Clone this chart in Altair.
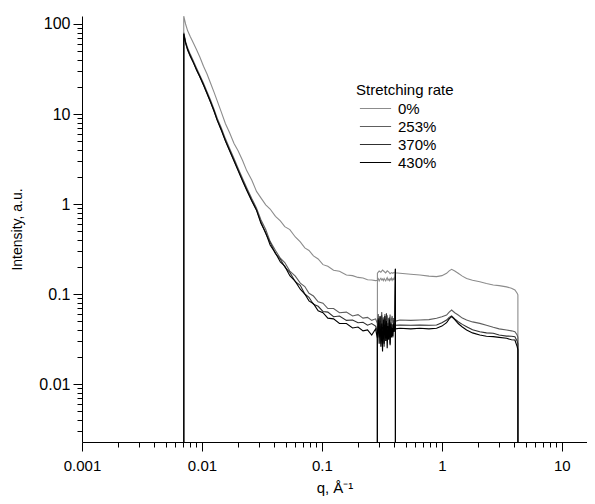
import altair as alt
import pandas as pd

# ---------------- data ----------------
rates = ["0%", "253%", "370%", "430%"]
colors = ["#8c8c8c", "#5e5e5e", "#303030", "#000000"]

# zero-count detector points at the ends of each segment (below the axis floor)
ZERO = 1e-5

q_saxs = [0.00705, 0.0073, 0.0076, 0.0080, 0.0085, 0.0090, 0.0096, 0.0103, 0.0110, 0.0118,
          0.0126, 0.0134, 0.0145, 0.0157, 0.0170, 0.0185, 0.0200, 0.0218, 0.0236, 0.0260,
          0.0285, 0.0310, 0.034, 0.037, 0.041, 0.045, 0.049, 0.054, 0.060, 0.066,
          0.072, 0.078, 0.085, 0.093, 0.102, 0.112, 0.125, 0.14, 0.16, 0.18,
          0.20, 0.22, 0.24, 0.26, 0.28,
          0.29, 0.295, 0.30, 0.305, 0.31, 0.315, 0.32, 0.325, 0.33, 0.335,
          0.34, 0.345, 0.35, 0.355, 0.36, 0.365, 0.37, 0.375, 0.38, 0.385,
          0.39, 0.395, 0.40, 0.405, 0.41]

saxs_0 = [122, 100, 84, 72, 61, 52, 43, 34, 28, 22,
          17.5, 14, 10.5, 7.8, 6.2, 4.7, 3.9, 3.05, 2.35, 1.85,
          1.38, 1.17, 0.98, 0.88, 0.73, 0.65, 0.56, 0.52, 0.43, 0.38,
          0.325, 0.305, 0.265, 0.245, 0.212, 0.203, 0.184, 0.179, 0.163, 0.16,
          0.153, 0.151, 0.144, 0.143, 0.141,
          0.142, 0.148, 0.140, 0.146, 0.150, 0.143, 0.147, 0.141, 0.149, 0.144,
          0.140, 0.147, 0.152, 0.143, 0.146, 0.141, 0.148, 0.144, 0.150, 0.142,
          0.147, 0.145, 0.151, 0.146, 0.193]

saxs_253 = [80, 64, 54, 46, 38.5, 32.5, 27, 22, 17.8, 14.2,
            11.3, 9.0, 7.0, 5.3, 4.15, 3.2, 2.5, 1.92, 1.52, 1.15,
            0.9, 0.67, 0.52, 0.385, 0.305, 0.25, 0.224, 0.18, 0.158, 0.132,
            0.121, 0.102, 0.095, 0.082, 0.079, 0.069, 0.069, 0.062, 0.063, 0.057,
            0.059, 0.054, 0.055, 0.051, 0.053,
            0.047, 0.060, 0.043, 0.056, 0.049, 0.063, 0.041, 0.055, 0.048, 0.060,
            0.044, 0.053, 0.058, 0.045, 0.054, 0.047, 0.059, 0.043, 0.053, 0.057,
            0.047, 0.054, 0.049, 0.055, 0.19]

saxs_370 = [77, 61, 51, 43.5, 37, 31, 26, 21, 17, 13.6,
            10.8, 8.6, 6.7, 5.05, 3.95, 3.05, 2.4, 1.83, 1.45, 1.1,
            0.86, 0.63, 0.47, 0.375, 0.28, 0.245, 0.2, 0.174, 0.137, 0.125,
            0.1, 0.092, 0.077, 0.073, 0.064, 0.063, 0.056, 0.057, 0.051, 0.0515,
            0.048, 0.0485, 0.045, 0.047, 0.044,
            0.038, 0.054, 0.033, 0.050, 0.028, 0.058, 0.035, 0.047, 0.026, 0.052,
            0.032, 0.061, 0.030, 0.048, 0.037, 0.055, 0.028, 0.049, 0.035, 0.046,
            0.033, 0.051, 0.039, 0.047, 0.19]

saxs_430 = [78, 62, 52, 44, 37, 31, 26, 21, 17, 13.5,
            10.8, 8.5, 6.6, 5.0, 3.9, 3.0, 2.35, 1.8, 1.42, 1.08,
            0.85, 0.61, 0.48, 0.35, 0.285, 0.228, 0.204, 0.16, 0.138, 0.113,
            0.1, 0.084, 0.078, 0.065, 0.062, 0.054, 0.053, 0.047, 0.047, 0.042,
            0.043, 0.039, 0.040, 0.035, 0.041,
            0.032, 0.052, 0.028, 0.057, 0.026, 0.047, 0.023, 0.052, 0.028, 0.057,
            0.030, 0.050, 0.025, 0.044, 0.031, 0.052, 0.027, 0.047, 0.033, 0.042,
            0.034, 0.047, 0.038, 0.044, 0.19]

q_waxs = [0.29, 0.30, 0.31, 0.32, 0.33, 0.34, 0.35, 0.36, 0.37, 0.38,
          0.39, 0.40, 0.41, 0.447, 0.55, 0.656, 0.78, 0.903, 1.0, 1.094,
          1.15, 1.205, 1.28, 1.367, 1.48, 1.607, 1.8, 2.07, 2.35, 2.68,
          3.0, 3.46, 3.8, 4.06, 4.24, 4.3]

waxs_0 = [0.170, 0.180, 0.175, 0.185, 0.178, 0.172, 0.181, 0.176, 0.168, 0.173,
          0.170, 0.174, 0.172, 0.170, 0.166, 0.163, 0.158, 0.156, 0.160, 0.170,
          0.181, 0.188, 0.180, 0.170, 0.158, 0.149, 0.142, 0.137, 0.131, 0.126,
          0.124, 0.120, 0.116, 0.111, 0.102, 0.098]

waxs_253 = [0.050, 0.052, 0.049, 0.053, 0.051, 0.050, 0.052, 0.049, 0.051, 0.050,
            0.052, 0.051, 0.050, 0.0514, 0.051, 0.0514, 0.052, 0.0537, 0.056, 0.0584,
            0.063, 0.0664, 0.062, 0.0584, 0.054, 0.0514, 0.049, 0.0472, 0.045, 0.0427,
            0.041, 0.0398, 0.039, 0.0381, 0.035, 0.033]

waxs_370 = [0.044, 0.046, 0.043, 0.045, 0.044, 0.046, 0.044, 0.045, 0.043, 0.046,
            0.044, 0.045, 0.045, 0.0453, 0.045, 0.0453, 0.045, 0.0453, 0.048, 0.0514,
            0.055, 0.057, 0.053, 0.0492, 0.046, 0.0434, 0.040, 0.0381, 0.037, 0.0366,
            0.035, 0.0341, 0.034, 0.0336, 0.030, 0.028]

waxs_430 = [0.040, 0.042, 0.039, 0.042, 0.040, 0.041, 0.043, 0.040, 0.041, 0.042,
            0.040, 0.042, 0.041, 0.0416, 0.041, 0.0416, 0.041, 0.0416, 0.044, 0.048,
            0.053, 0.056, 0.052, 0.047, 0.043, 0.0398, 0.037, 0.035, 0.034, 0.0336,
            0.033, 0.0322, 0.031, 0.0308, 0.026, 0.024]

saxs = {"0%": saxs_0, "253%": saxs_253, "370%": saxs_370, "430%": saxs_430}
waxs = {"0%": waxs_0, "253%": waxs_253, "370%": waxs_370, "430%": waxs_430}

rows = []
for r in rates:
    assert len(saxs[r]) == len(q_saxs), r
    assert len(waxs[r]) == len(q_waxs), r
    seq = [(q_saxs[0], ZERO)] + list(zip(q_saxs, saxs[r])) + [(q_saxs[-1], ZERO)]
    seq += [(q_waxs[0], ZERO)] + list(zip(q_waxs, waxs[r])) + [(q_waxs[-1], ZERO)]
    for i, (q, v) in enumerate(seq):
        rows.append({"rate": r, "q": q, "I": v, "idx": i})
df = pd.DataFrame(rows)

# ---------------- axes ----------------
X_MIN, X_MAX = 0.001, 16.2
Y_MIN, Y_MAX = 0.00227, 122.7


def log_ticks(lo, hi):
    vals = []
    for e in range(-4, 3):
        for k in range(1, 10):
            v = round(k * 10 ** e, 8)
            if lo * 0.999 <= v <= hi * 1.001:
                vals.append(v)
    return vals


MAJOR = "abs(log(datum.value)/LN10 - round(log(datum.value)/LN10)) < 0.001"
tick_size = {"condition": {"test": MAJOR, "value": 9}, "value": 5}
label_expr = f"({MAJOR}) ? format(datum.value, '~g') : ''"

FONT = "Liberation Sans"

x_axis = alt.Axis(values=log_ticks(X_MIN, X_MAX), tickSize=tick_size, labelExpr=label_expr,
                  labelOverlap=False, labelFlush=False, grid=False, domainColor="black",
                  tickColor="black", labelFontSize=15, labelPadding=7, titleFontSize=15,
                  titlePadding=7, titleFontWeight="normal", labelFont=FONT, titleFont=FONT,
                  labelColor="black", titleColor="black")
y_axis = alt.Axis(values=log_ticks(Y_MIN, Y_MAX), tickSize=tick_size, labelExpr=label_expr,
                  labelOverlap=False, labelFlush=False, grid=False, domainColor="black",
                  tickColor="black", labelFontSize=16, labelPadding=3, titleFontSize=14,
                  titlePadding=14, titleFontWeight="normal", labelFont=FONT, titleFont=FONT,
                  labelColor="black", titleColor="black")

legend = alt.Legend(
    title="Stretching rate", orient="none", legendX=274, legendY=67,
    symbolType="M-2.6,0H2.6", symbolSize=144, symbolStrokeWidth=1.2, symbolOffset=12,
    labelOffset=15, labelFontSize=15, titleFontSize=15, titleFontWeight="normal",
    labelFont=FONT, titleFont=FONT, rowPadding=2, titlePadding=3,
    labelColor="black", titleColor="black",
)

chart = alt.Chart(df).mark_line(strokeWidth=1.1, clip=True).encode(
    x=alt.X("q:Q", title="q, Å⁻¹",
            scale=alt.Scale(type="log", domain=[X_MIN, X_MAX], nice=False), axis=x_axis),
    y=alt.Y("I:Q", title="Intensity, a.u.",
            scale=alt.Scale(type="log", domain=[Y_MIN, Y_MAX], nice=False), axis=y_axis),
    color=alt.Color("rate:N", scale=alt.Scale(domain=rates, range=colors), legend=legend),
    order="idx:Q",
).properties(
    width=505, height=426, autosize="none",
    padding={"left": 74, "top": 8, "right": 0, "bottom": 54},
).configure_view(stroke=None)

chart.save("out.html", embed_options={"renderer": "svg", "actions": False})
